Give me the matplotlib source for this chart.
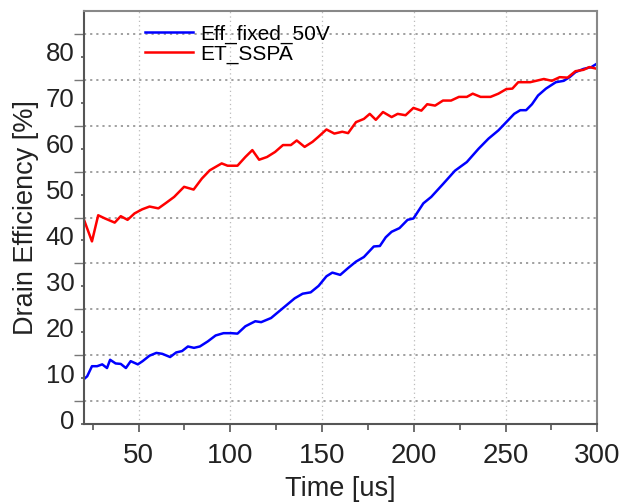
import numpy as np
import matplotlib.pyplot as plt
from matplotlib.ticker import MultipleLocator, FixedLocator
import matplotlib.transforms as mtransforms

plt.rcParams['font.family'] = ['Liberation Sans', 'DejaVu Sans']

# drain efficiency vs time, ET supply vs fixed 50 V
t_et = [20, 24.6, 28, 31.7, 37, 40.3, 44, 47.8, 52, 56, 60.8, 65, 69.4, 74.8, 80,
        84.5, 88.8, 95.3, 98.5, 103.9, 108.2, 112, 115.7, 120, 124.4, 128.7, 133,
        136.2, 140.5, 144.8, 148, 152.4, 156.7, 161, 164.2, 168.5, 172.8, 176,
        179.3, 183.2, 187.9, 191.2, 195.5, 199.8, 204.1, 207.3, 211.6, 215.9,
        220.3, 224.6, 228.9, 232.1, 236.4, 241.8, 246.1, 250.4, 253.7, 256.9,
        263.4, 270.9, 275.2, 279.5, 283.8, 288.1, 292.5, 295.7, 300]
eff_et = [44.8, 39.8, 45.5, 44.8, 43.9, 45.3, 44.5, 45.9, 46.8, 47.4, 47.0, 48.2,
          49.5, 51.7, 51.1, 53.5, 55.3, 56.8, 56.3, 56.3, 58.2, 59.7, 57.6, 58.2,
          59.3, 60.8, 60.8, 61.8, 60.4, 61.5, 62.6, 64.2, 63.3, 63.7, 63.4, 65.8,
          66.5, 67.6, 66.3, 68.0, 66.9, 67.6, 67.3, 68.9, 68.3, 69.7, 69.4, 70.5,
          70.5, 71.3, 71.3, 72.0, 71.3, 71.3, 72.0, 73.0, 73.1, 74.5, 74.5, 75.2,
          74.8, 75.6, 75.5, 76.9, 77.2, 77.8, 77.4]

t_fix = [20, 22, 24.6, 27.4, 30.2, 32.8, 34.5, 37.5, 40.3, 43.1, 45.7, 49.6, 52.2,
         56, 59.7, 62.9, 67.2, 70.5, 73.7, 76.9, 80.2, 83.4, 87.7, 92, 96.3, 100.6,
         103.9, 108.2, 113.6, 116.8, 122.2, 127.6, 135.1, 139.4, 143.8, 148.1,
         152.4, 155.6, 159.9, 164.2, 168.5, 172.8, 178.2, 181.5, 184.7, 187.9,
         192.2, 196.6, 199.8, 205.2, 209.5, 215.9, 222.4, 228.9, 235.3, 240.7,
         246.1, 250.4, 254.7, 258, 261.2, 264.4, 267.7, 272, 277.4, 281.7, 284.9,
         288.1, 292.5, 296.8, 300]
eff_fix = [9.7, 10.4, 12.6, 12.6, 13.0, 12.2, 14.0, 13.2, 13.1, 12.2, 13.7, 13.0,
           13.7, 14.9, 15.5, 15.3, 14.6, 15.6, 15.9, 16.9, 16.6, 16.9, 18.0, 19.3,
           19.8, 19.8, 19.7, 21.3, 22.4, 22.2, 23.1, 24.9, 27.4, 28.4, 28.7, 30.1,
           32.2, 33.0, 32.5, 34.0, 35.4, 36.4, 38.7, 38.8, 40.7, 41.9, 42.7, 44.5,
           44.8, 48.1, 49.5, 52.3, 55.2, 57.1, 60.0, 62.2, 64.0, 65.8, 67.6, 68.4,
           68.4, 69.7, 71.6, 73.1, 74.5, 74.8, 75.6, 76.7, 77.4, 77.8, 78.6]

fig = plt.figure(figsize=(6.2, 5.04), dpi=100)
ax = fig.add_axes([0.1347, 0.1587, 0.8287, 0.8193])

ax.plot(t_fix, eff_fix, color='#0000ff', lw=1.8, label='Eff_fixed_50V')
ax.plot(t_et, eff_et, color='#ff0000', lw=1.8, label='ET_SSPA')

ax.set_xlim(20, 300)
ax.set_ylim(0, 90)

ax.xaxis.set_major_locator(FixedLocator([50, 100, 150, 200, 250, 300]))
ax.xaxis.set_minor_locator(FixedLocator([25, 75, 125, 175, 225, 275]))
ax.yaxis.set_major_locator(MultipleLocator(10))
ax.yaxis.set_minor_locator(FixedLocator(np.arange(5, 90, 10)))
ax.set_yticks(np.arange(0, 81, 10))

ax.tick_params(axis='x', which='major', direction='out', length=6, width=1.2,
               color='#555555', labelsize=20, labelcolor='#222222', pad=8)
ax.tick_params(axis='x', which='minor', direction='out', length=4, width=1.2,
               color='#555555')
ax.tick_params(axis='y', which='major', direction='out', length=2.5, width=1.2,
               color='#555555', labelsize=18.5, labelcolor='#222222', pad=4)
ax.tick_params(axis='y', which='minor', direction='out', length=7, width=1.0,
               color='#777777')

# y tick labels sit a little above their ticks
shift = mtransforms.ScaledTranslation(0, 5 / 100, fig.dpi_scale_trans)
for lab in ax.get_yticklabels():
    lab.set_transform(lab.get_transform() + shift)

ax.yaxis.grid(True, which='minor', color='#999999', lw=1.3, ls=(0, (1.2, 2.2)))
ax.xaxis.grid(True, which='major', color='#bbbbbb', lw=0.9, ls=(0, (1, 2.5)))
ax.set_axisbelow(True)

for side in ['left', 'bottom']:
    ax.spines[side].set_color('#555555')
    ax.spines[side].set_linewidth(1.5)
for side in ['top', 'right']:
    ax.spines[side].set_color('#888888')
    ax.spines[side].set_linewidth(1.5)

ax.set_xlabel('Time [us]', fontsize=19.5, color='#222222')
ax.set_ylabel('Drain Efficiency [%]', fontsize=19.5, color='#222222')
ax.xaxis.set_label_coords(0.5, -0.125)
ax.yaxis.set_label_coords(-0.087, 0.5)

ax.legend(loc='upper left', bbox_to_anchor=(0.12, 0.968), frameon=False,
          fontsize=15, handlelength=2.3, handletextpad=0.35, labelspacing=0.05,
          borderpad=0, borderaxespad=0)

fig.savefig('out.png', dpi=100)
